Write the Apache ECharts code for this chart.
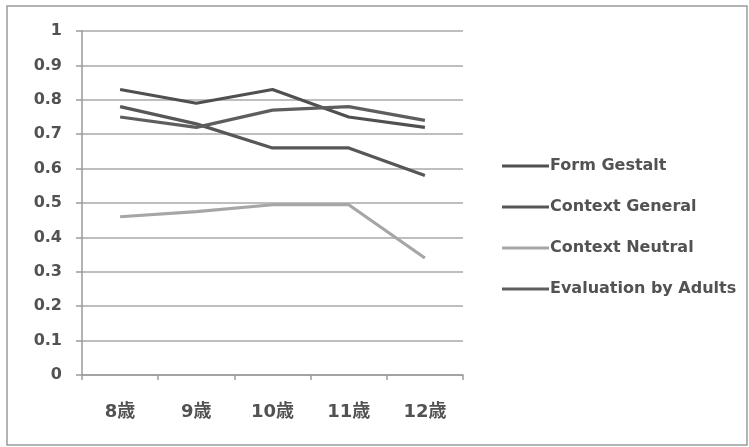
<!DOCTYPE html>
<html><head><meta charset="utf-8">
<script src="https://cdn.jsdelivr.net/npm/echarts@6/dist/echarts.min.js"></script>
<style>html,body{margin:0;padding:0;background:#fff}#c{width:749px;height:447px}</style>
</head><body><div id="c"></div>
<script>
var categories = ['8歳','9歳','10歳','11歳','12歳'];
var yTicks = [0,0.1,0.2,0.3,0.4,0.5,0.6,0.7,0.8,0.9,1];
var seriesNames = ['Form Gestalt','Context General','Context Neutral','Evaluation by Adults'];
var formGestalt = [0.83,0.79,0.83,0.75,0.72];
var contextGeneral = [0.78,0.73,0.66,0.66,0.58];
var contextNeutral = [0.46,0.475,0.495,0.495,0.34];
var evalAdults = [0.75,0.72,0.77,0.78,0.74];
var colors = ['#505050','#575757','#a6a6a6','#5e5e5e'];
var font = '"DejaVu Sans", "Noto Sans CJK JP", sans-serif';
var chart = echarts.init(document.getElementById('c'));
var data = [formGestalt, contextGeneral, contextNeutral, evalAdults];
chart.setOption({
  animation:false,
  backgroundColor:'#fff',
  graphic:[{type:'rect',shape:{x:7,y:6,width:740,height:439},style:{fill:'none',stroke:'#9a9a9a',lineWidth:1.5}}],
  grid:{left:82,right:286,top:31,bottom:72},
  legend:{orient:'vertical',left:497,top:153,itemWidth:47,itemHeight:3,icon:'rect',itemGap:25,
    textStyle:{fontFamily:font,fontSize:16,fontWeight:'bold',color:'#525252',padding:[0,0,0,-4]},
    data:seriesNames},
  xAxis:{type:'category',data:categories,boundaryGap:true,
    axisLine:{lineStyle:{color:'#9a9a9a',width:1.5}},
    axisTick:{show:true,length:5,lineStyle:{color:'#9a9a9a',width:1.5}},
    axisLabel:{fontFamily:font,fontSize:18,fontWeight:'bold',color:'#525252',margin:28}},
  yAxis:{type:'value',min:0,max:1,interval:0.1,
    axisLine:{show:true,lineStyle:{color:'#9a9a9a',width:1.5}},
    axisTick:{show:true,length:6,lineStyle:{color:'#9a9a9a',width:1.5}},
    splitLine:{lineStyle:{color:'#a8a8a8',width:1.5}},
    axisLabel:{fontFamily:font,fontSize:16,fontWeight:'bold',color:'#525252',margin:20,
      formatter:function(v){var t=yTicks.find(function(x){return Math.abs(x-v)<1e-9});return String(t!==undefined?t:v);}}},
  series:data.map(function(d,i){return {name:seriesNames[i],type:'line',data:d,symbol:'none',
    lineStyle:{color:colors[i],width:3.2},itemStyle:{color:colors[i]}};})
});
</script></body></html>
